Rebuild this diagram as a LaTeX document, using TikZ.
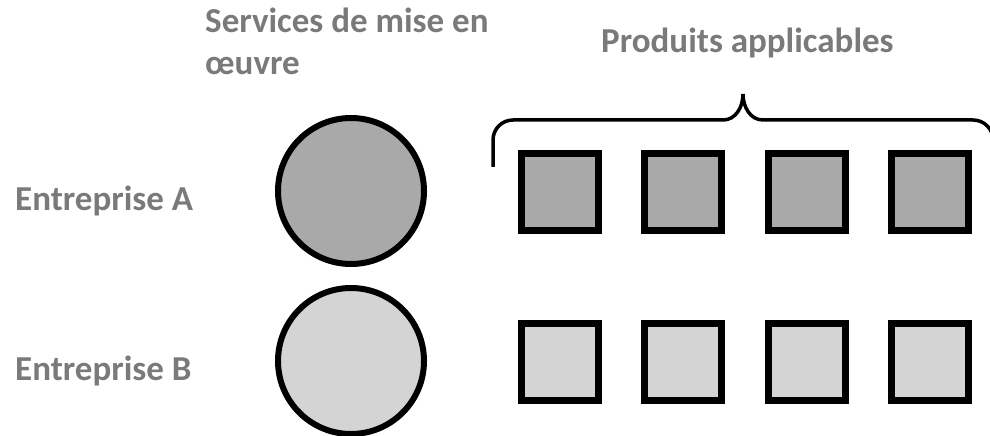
\documentclass[tikz,border=0pt]{standalone}
\usepackage{fontspec}
\setmainfont{Carlito}
\definecolor{labelgray}{HTML}{7A7A7A}
\definecolor{darkfill}{HTML}{A9A9A9}
\definecolor{lightfill}{HTML}{D4D4D4}
\begin{document}
\begin{tikzpicture}
        [x=1pt, y=1pt,
        label/.style={anchor=base west, inner sep=0, text=labelgray, font=\bfseries\fontsize{35}{42}\selectfont},
        service/.style={circle, draw, line width=6pt, minimum size=146pt, inner sep=0},
        product/.style={rectangle, draw, line width=7pt, minimum size=77pt, inner sep=0},
        bracket/.style={line width=3.5pt}]
        \useasboundingbox (0,0) rectangle (990,436);
        
        % Column headings
        \node[label, align=left] (services) at (205,361) {Services de mise en\\œuvre};
        \node[label] (produits) at (601,383) {Produits applicables};
        
        % Row labels
        \node[label] (entA) at (15,225) {Entreprise A};
        \node[label] (entB) at (15,55) {Entreprise B};
        
        % Implementation services
        \node[service, fill=darkfill] (circA) at (351,245) {};
        \node[service, fill=lightfill] (circB) at (351,75) {};
        
        % Products
        \foreach \i in {1,...,4} {
            \node[product, fill=darkfill] (sqA\i) at ({559.5+123.5*(\i-1)},244) {};
            \node[product, fill=lightfill] (sqB\i) at ({559.5+123.5*(\i-1)},73.5) {};
        }
        
        % Brace over the products
        \begin{scope}
            \clip (0,0) rectangle (990,436);
            \draw[bracket] (493,269) -- (493,296) to[out=90,in=180] (513,316) -- (723,316)
                to[out=0,in=-90] (743,342) to[out=-90,in=180] (763,316) -- (973,316)
                to[out=0,in=90] (993,296) -- (993,269);
        \end{scope}
        
    \end{tikzpicture}
\end{document}
